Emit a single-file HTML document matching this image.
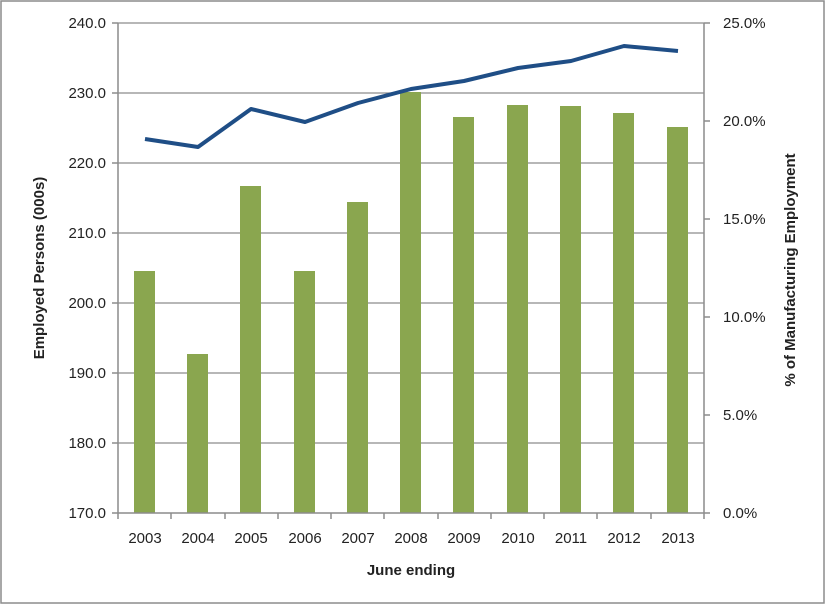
<!DOCTYPE html>
<html><head><style>body{margin:0;background:#fff}</style></head><body>
<svg width="826" height="605" xmlns="http://www.w3.org/2000/svg" font-family="Liberation Sans, sans-serif">
<rect x="1" y="1" width="823" height="602" fill="#fff" stroke="#8c8c8c" stroke-width="1.5"/>
<g stroke="#8c8c8c" stroke-width="1.2">
<line x1="118" y1="23" x2="704" y2="23"/><line x1="118" y1="93" x2="704" y2="93"/>
<line x1="118" y1="163" x2="704" y2="163"/><line x1="118" y1="233" x2="704" y2="233"/>
<line x1="118" y1="303" x2="704" y2="303"/><line x1="118" y1="373" x2="704" y2="373"/>
<line x1="118" y1="443" x2="704" y2="443"/>
</g>
<g fill="#8aa64f">
<rect x="134" y="271" width="21" height="242"/><rect x="187" y="354" width="21" height="159"/>
<rect x="240" y="186" width="21" height="327"/><rect x="294" y="271" width="21" height="242"/>
<rect x="347" y="202" width="21" height="311"/><rect x="400" y="92" width="21" height="421"/>
<rect x="453" y="117" width="21" height="396"/><rect x="507" y="105" width="21" height="408"/>
<rect x="560" y="106" width="21" height="407"/><rect x="613" y="113" width="21" height="400"/>
<rect x="667" y="127" width="21" height="386"/>
</g>
<g stroke="#8c8c8c" stroke-width="1.5">
<line x1="118" y1="23" x2="118" y2="513"/><line x1="704" y1="23" x2="704" y2="513"/>
<line x1="112" y1="513" x2="710" y2="513"/>
<line x1="112" y1="23" x2="118" y2="23"/><line x1="112" y1="93" x2="118" y2="93"/><line x1="112" y1="163" x2="118" y2="163"/><line x1="112" y1="233" x2="118" y2="233"/><line x1="112" y1="303" x2="118" y2="303"/><line x1="112" y1="373" x2="118" y2="373"/><line x1="112" y1="443" x2="118" y2="443"/>
<line x1="704" y1="23" x2="710" y2="23"/><line x1="704" y1="121" x2="710" y2="121"/><line x1="704" y1="219" x2="710" y2="219"/><line x1="704" y1="317" x2="710" y2="317"/><line x1="704" y1="415" x2="710" y2="415"/>
<line x1="118" y1="513" x2="118" y2="519"/><line x1="171" y1="513" x2="171" y2="519"/><line x1="225" y1="513" x2="225" y2="519"/><line x1="278" y1="513" x2="278" y2="519"/><line x1="331" y1="513" x2="331" y2="519"/><line x1="384" y1="513" x2="384" y2="519"/><line x1="438" y1="513" x2="438" y2="519"/><line x1="491" y1="513" x2="491" y2="519"/><line x1="544" y1="513" x2="544" y2="519"/><line x1="597" y1="513" x2="597" y2="519"/><line x1="651" y1="513" x2="651" y2="519"/><line x1="704" y1="513" x2="704" y2="519"/>
</g>
<polyline fill="none" stroke="#1f4e86" stroke-width="4" stroke-linejoin="round" points="145,139 198,147 251,109 305,122 358,103 411,89 464,81 518,68 571,61 624,46 678,51"/>
<g font-size="15" fill="#222" text-anchor="end">
<text x="106" y="28">240.0</text><text x="106" y="98">230.0</text><text x="106" y="168">220.0</text><text x="106" y="238">210.0</text><text x="106" y="308">200.0</text><text x="106" y="378">190.0</text><text x="106" y="448">180.0</text><text x="106" y="518">170.0</text>
</g>
<g font-size="15" fill="#222">
<text x="723" y="28">25.0%</text><text x="723" y="126">20.0%</text><text x="723" y="224">15.0%</text><text x="723" y="322">10.0%</text><text x="723" y="420">5.0%</text><text x="723" y="518">0.0%</text>
</g>
<g font-size="15" fill="#222" text-anchor="middle">
<text x="145" y="543">2003</text><text x="198" y="543">2004</text><text x="251" y="543">2005</text><text x="305" y="543">2006</text><text x="358" y="543">2007</text><text x="411" y="543">2008</text><text x="464" y="543">2009</text><text x="518" y="543">2010</text><text x="571" y="543">2011</text><text x="624" y="543">2012</text><text x="678" y="543">2013</text>
</g>
<text x="411" y="575" font-size="15" font-weight="bold" text-anchor="middle" fill="#222">June ending</text>
<text transform="translate(44,268) rotate(-90)" font-size="15" font-weight="bold" text-anchor="middle" fill="#222">Employed Persons (000s)</text>
<text transform="translate(795,270) rotate(-90)" font-size="15" font-weight="bold" text-anchor="middle" fill="#222">% of Manufacturing Employment</text>
</svg>
</body></html>
